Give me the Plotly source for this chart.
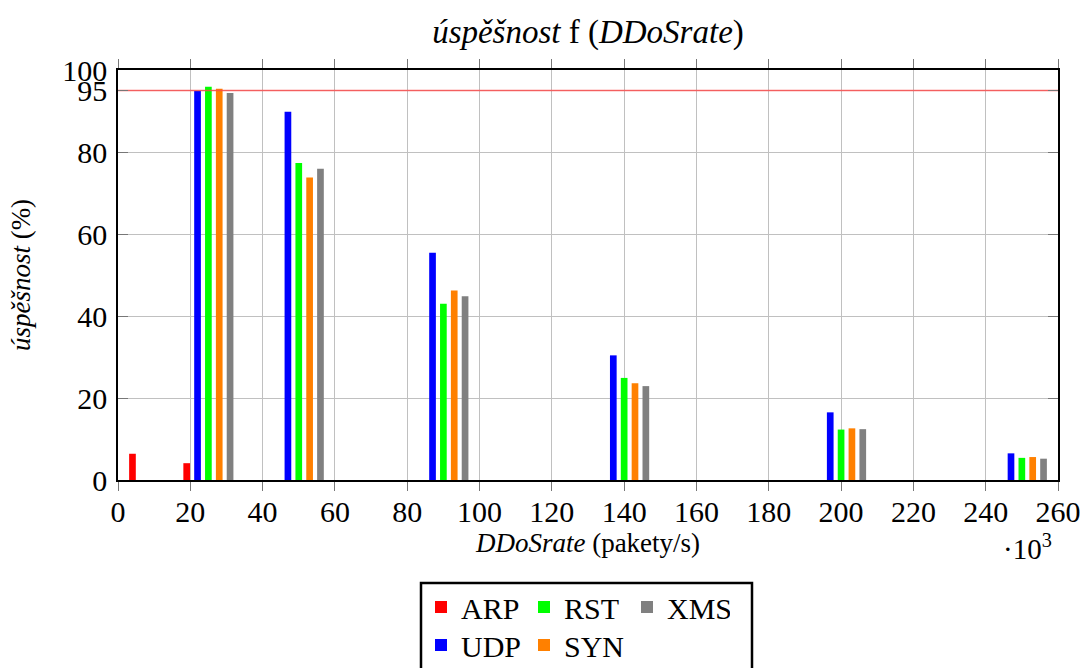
import plotly.graph_objects as go

# ---- data ----
groups = [25, 50, 90, 140, 200, 250]          # DDoSrate (x10^3 pakety/s)
arp_x = [10, 25]
arp = [6.4, 4.1]
udp = [94.9, 89.8, 55.4, 30.4, 16.5, 6.5]
rst = [95.9, 77.3, 43.0, 24.9, 12.3, 5.4]
syn = [95.4, 73.8, 46.2, 23.6, 12.6, 5.6]
xms = [94.4, 75.9, 44.8, 22.9, 12.4, 5.2]
threshold = 95
x_ticks = list(range(0, 261, 20))
y_ticks = [0, 20, 40, 60, 80, 95, 100]

FONT = "Liberation Serif"
BW = 1.85  # bar width in data units

series = [
    ("ARP", arp_x, arp, "#ff0000", -6, "legend"),
    ("RST", groups, rst, "#00ff00", 0, "legend"),
    ("XMS", groups, xms, "#808080", 6, "legend"),
    ("UDP", groups, udp, "#0000ff", -3, "legend2"),
    ("SYN", groups, syn, "#ff8000", 3, "legend2"),
]

fig = go.Figure()
for name, xs, ys, col, shift, leg in series:
    fig.add_trace(go.Bar(
        x=xs, y=ys, name=name, width=BW, offset=shift - BW / 2,
        marker=dict(color=col, line=dict(width=0)), legend=leg,
    ))

fig.add_trace(go.Scatter(
    x=[0, 260], y=[threshold, threshold], mode="lines",
    line=dict(color="rgba(255,70,70,0.8)", width=1.5), showlegend=False,
))

LX = (421 - 118) / 940
fig.update_layout(
    width=1082, height=668,
    margin=dict(l=118, r=24, t=70, b=188, autoexpand=False),
    barmode="overlay",
    plot_bgcolor="white", paper_bgcolor="white",
    font=dict(family=FONT, color="black", size=28),
    title=dict(text="<i>úspěšnost</i> f (<i>DDoSrate</i>)", x=0.5434, xanchor="center",
               y=1 - 31 / 668, yanchor="middle", font=dict(size=33, family=FONT)),
    legend=dict(orientation="h", x=LX, xanchor="left",
                y=(480 - 581) / 410, yanchor="top", entrywidth=58,
                font=dict(size=30, family=FONT), borderwidth=0, bgcolor="rgba(0,0,0,0)"),
    legend2=dict(orientation="h", x=LX, xanchor="left",
                 y=(480 - 619) / 410, yanchor="top", entrywidth=58,
                 font=dict(size=30, family=FONT), borderwidth=0, bgcolor="rgba(0,0,0,0)"),
    shapes=[dict(type="rect", xref="paper", yref="paper",
                 x0=(421 - 118) / 940, x1=(752 - 118) / 940,
                 y0=(480 - 672) / 410, y1=(480 - 583) / 410,
                 line=dict(color="black", width=2.5), fillcolor="rgba(0,0,0,0)", layer="below")],
    annotations=[dict(text="·10<sup>3</sup>", xref="paper", yref="paper",
                      x=(1027 - 118) / 940, y=(480 - 547) / 410, xanchor="center", yanchor="middle",
                      showarrow=False, font=dict(size=29, family=FONT))],
)

fig.update_xaxes(
    range=[0, 260], tickvals=x_ticks, ticktext=[str(v) for v in x_ticks],
    showgrid=True, gridcolor="#c0c0c0", gridwidth=1,
    showline=True, linecolor="black", linewidth=1.5, mirror="allticks",
    ticks="outside", ticklen=9, tickcolor="#777777", ticklabelstandoff=-5,
    tickfont=dict(size=30, family=FONT), zeroline=False,
    title=dict(text="<i>DDoSrate</i> (pakety/s)", font=dict(size=27, family=FONT), standoff=2),
)
fig.update_yaxes(
    range=[0, 100], tickvals=y_ticks, ticktext=[str(v) for v in y_ticks],
    showgrid=True, gridcolor="#c0c0c0", gridwidth=1,
    showline=True, linecolor="black", linewidth=1.5, mirror="allticks",
    ticks="inside", ticklen=10, tickcolor="#777777", ticklabelstandoff=3,
    tickfont=dict(size=30, family=FONT), zeroline=False,
    title=dict(text="<i>úspěšnost</i> (%)", font=dict(size=27, family=FONT), standoff=24),
)

fig.write_html("out.html")
